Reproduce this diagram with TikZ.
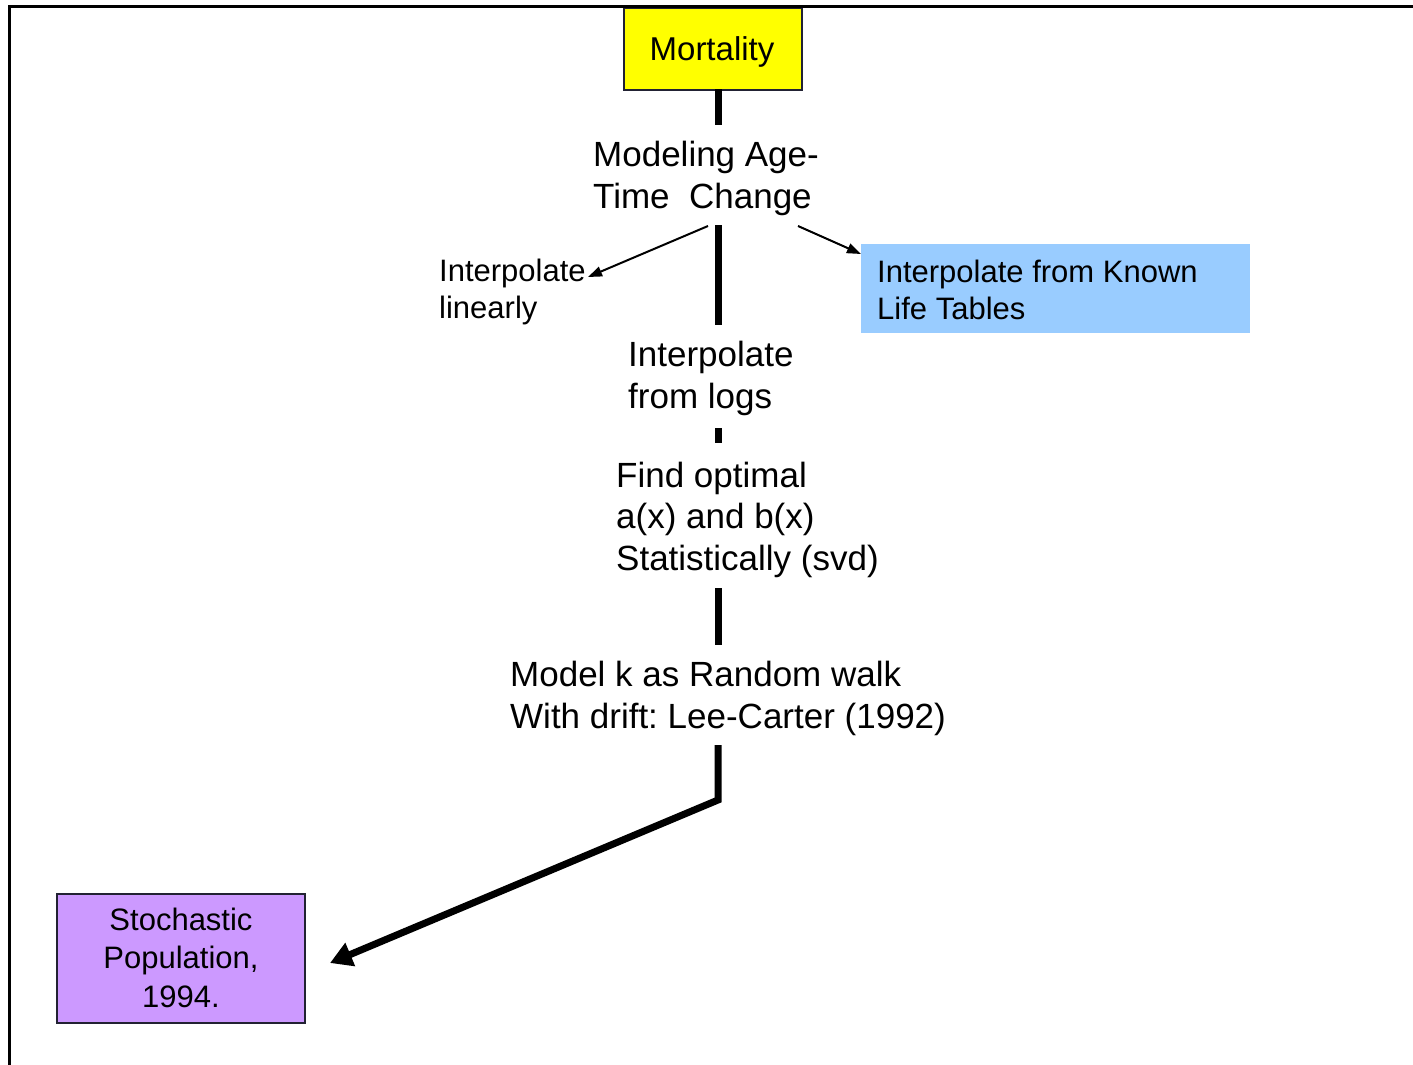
\documentclass[tikz,border=0pt]{standalone}
\usepackage{fontspec}
\setmainfont{Liberation Sans}
\usetikzlibrary{arrows.meta}
\definecolor{boxyellow}{HTML}{FFFF00}
\definecolor{boxblue}{HTML}{99CCFF}
\definecolor{boxpurple}{HTML}{CC99FF}
\definecolor{edgedark}{HTML}{222233}
\frenchspacing
\begin{document}
\begin{tikzpicture}[x=1pt,y=-1pt,
  bigtxt/.style={font=\fontsize{35}{41.5}\selectfont, inner sep=0pt, align=left, anchor=base west},
  smalltxt/.style={font=\fontsize{31}{37}\selectfont, inner sep=0pt, align=left, anchor=base west},
  thickline/.style={line width=7pt, draw=black},
  thinarrow/.style={line width=2pt, draw=black, -{Triangle[length=14pt,width=10pt]}},
  bigarrow/.style={line width=7pt, draw=black, line join=miter, -{Triangle[length=22pt,width=24pt]}}]
\useasboundingbox (0,0) rectangle (1413,1065);
\fill[white] (0,0) rectangle (1413,1065);
% frame
\draw[line width=3pt] (9,1065) -- (9,7) -- (1413,7);
% boxes
\node[draw=edgedark, fill=boxyellow, line width=1.5pt, minimum width=178pt, minimum height=81pt, inner sep=0pt, anchor=north west] (mort) at (623,8) {};
\node[font=\fontsize{33}{39}\selectfont, inner sep=0pt, anchor=base] (morttxt) at (712,61) {Mortality};
\node[fill=boxblue, minimum width=389pt, minimum height=89pt, inner sep=0pt, anchor=north west] (known) at (861,244) {};
\node[smalltxt] (knowntxt) at (877,319) {Interpolate from Known\\Life Tables};
\node[draw=edgedark, fill=boxpurple, line width=1.5pt, minimum width=248pt, minimum height=129pt, inner sep=0pt, anchor=north west] (stoch) at (56,893) {};
\node[font=\fontsize{31}{38.5}\selectfont, inner sep=0pt, align=center, anchor=base] (stochtxt) at (181,1007) {Stochastic\\Population,\\1994.};
% texts
\node[bigtxt] (model) at (593,208) {Modeling Age-\\Time\ \ Change};
\node[smalltxt] (linear) at (439,318) {Interpolate\\linearly};
\node[bigtxt] (logs) at (628,408) {Interpolate\\from logs};
\node[bigtxt] (optimal) at (616,570) {Find optimal\\a(x) and b(x)\\Statistically (svd)};
\node[bigtxt] (walk) at (510,728) {Model k as Random walk\\With drift: Lee-Carter (1992)};
% connector coordinates
\coordinate (a1) at (718,89);   \coordinate (a2) at (718,125);
\coordinate (b1) at (718,225);  \coordinate (b2) at (718,325);
\coordinate (c1) at (718,428);  \coordinate (c2) at (718,443);
\coordinate (d1) at (718,588);  \coordinate (d2) at (718,645);
\coordinate (e1) at (718,745);  \coordinate (e2) at (718,800);
\coordinate (e3) at (330,963);
\coordinate (f1) at (708,226);  \coordinate (f2) at (588,277);
\coordinate (g1) at (798,226);  \coordinate (g2) at (861,254);
\draw[thickline] (a1) -- (a2);
\draw[thickline] (b1) -- (b2);
\draw[thickline] (c1) -- (c2);
\draw[thickline] (d1) -- (d2);
\draw[bigarrow] (e1) -- (e2) -- (e3);
\draw[thinarrow] (f1) -- (f2);
\draw[thinarrow] (g1) -- (g2);
\end{tikzpicture}
\end{document}
